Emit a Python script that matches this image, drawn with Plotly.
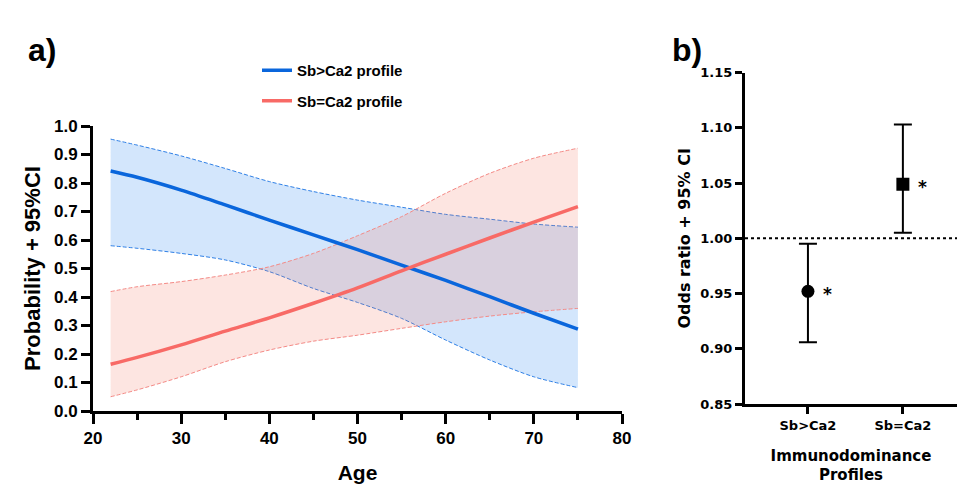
import plotly.graph_objects as go

# ---------------- Data ----------------
ages = [22, 25, 30, 35, 40, 45, 50, 55, 60, 65, 70, 75]

blue_mean  = [0.842, 0.820, 0.775, 0.723, 0.670, 0.618, 0.566, 0.512, 0.458, 0.401, 0.343, 0.287]
blue_upper = [0.954, 0.933, 0.895, 0.851, 0.805, 0.770, 0.740, 0.715, 0.690, 0.673, 0.656, 0.645]
blue_lower = [0.580, 0.571, 0.553, 0.530, 0.489, 0.430, 0.381, 0.325, 0.249, 0.179, 0.120, 0.082]

red_mean  = [0.164, 0.188, 0.232, 0.280, 0.327, 0.378, 0.432, 0.492, 0.550, 0.607, 0.663, 0.717]
red_upper = [0.419, 0.436, 0.454, 0.477, 0.506, 0.553, 0.615, 0.682, 0.764, 0.834, 0.887, 0.922]
red_lower = [0.050, 0.074, 0.120, 0.173, 0.214, 0.245, 0.266, 0.290, 0.313, 0.333, 0.348, 0.360]

profiles = ["Sb>Ca2", "Sb=Ca2"]
odds_ratio = [0.952, 1.049]
ci_low = [0.906, 1.005]
ci_high = [0.995, 1.103]
markers = ["circle", "square"]

x_ticks_a = [20, 30, 40, 50, 60, 70, 80]
y_ticks_a = [0.0, 0.1, 0.2, 0.3, 0.4, 0.5, 0.6, 0.7, 0.8, 0.9, 1.0]
y_ticks_b = [0.85, 0.90, 0.95, 1.00, 1.05, 1.10, 1.15]

BLUE = "#0a66dc"
RED = "#f86a66"
FA = "Liberation Sans, Arial, sans-serif"
FB = "DejaVu Sans, sans-serif"
W, H = 957, 485
DASH = "4px,2px"

fig = go.Figure()

# Blue CI band
fig.add_trace(go.Scatter(x=ages, y=blue_lower, mode="lines",
                         line=dict(color="#2f80e6", width=1, dash=DASH, shape="spline", smoothing=0.8),
                         showlegend=False, hoverinfo="skip"))
fig.add_trace(go.Scatter(x=ages, y=blue_upper, mode="lines",
                         line=dict(color="#2f80e6", width=1, dash=DASH, shape="spline", smoothing=0.8),
                         fill="tonexty", fillcolor="rgba(20,120,238,0.19)", showlegend=False, hoverinfo="skip"))
# Red CI band
fig.add_trace(go.Scatter(x=ages, y=red_lower, mode="lines",
                         line=dict(color="#f48a86", width=1, dash=DASH, shape="spline", smoothing=0.8),
                         showlegend=False, hoverinfo="skip"))
fig.add_trace(go.Scatter(x=ages, y=red_upper, mode="lines",
                         line=dict(color="#f48a86", width=1, dash=DASH, shape="spline", smoothing=0.8),
                         fill="tonexty", fillcolor="rgba(245,115,95,0.19)", showlegend=False, hoverinfo="skip"))

# Mean lines
fig.add_trace(go.Scatter(x=ages, y=blue_mean, mode="lines", name="<b>Sb>Ca2 profile</b>", legendgroup="b",
                         line=dict(color=BLUE, width=3.5, shape="spline", smoothing=0.8)))
fig.add_trace(go.Scatter(x=ages, y=red_mean, mode="lines", name="<b>Sb=Ca2 profile</b>", legendgroup="r",
                         line=dict(color=RED, width=3.5, shape="spline", smoothing=0.8)))

# Panel b
for i in range(2):
    fig.add_trace(go.Scatter(
        x=[i], y=[odds_ratio[i]], xaxis="x2", yaxis="y2", mode="markers",
        marker=dict(symbol=markers[i], size=13, color="black"),
        error_y=dict(type="data", symmetric=False,
                     array=[ci_high[i] - odds_ratio[i]], arrayminus=[odds_ratio[i] - ci_low[i]],
                     color="black", thickness=2, width=9),
        showlegend=False, hoverinfo="skip"))

fig.add_shape(type="line", xref="x2 domain", yref="y2", x0=0, x1=1, y0=1.0, y1=1.0,
              line=dict(color="black", width=2, dash="dot"), layer="below")

fig.add_annotation(x=26 / W, y=1 - 30 / H, xref="paper", yref="paper", text="<b>a)</b>", showarrow=False,
                   font=dict(family=FA, size=32, color="black"))
fig.add_annotation(x=704 / W, y=1 - 30 / H, xref="paper", yref="paper", text="<b>b)</b>", showarrow=False,
                   font=dict(family=FA, size=32, color="black"))
for i in range(2):
    fig.add_annotation(x=i, y=odds_ratio[i], xref="x2", yref="y2", text="<b>*</b>", showarrow=False,
                       xshift=20, yshift=-3, font=dict(family=FB, size=17, color="black"))

fig.update_layout(
    width=W, height=H,
    margin=dict(l=0, r=0, t=0, b=0, autoexpand=False),
    paper_bgcolor="white", plot_bgcolor="white",
    legend=dict(x=257 / W, y=1 - 54 / H, xanchor="left", yanchor="top",
                font=dict(family=FA, size=15, color="black"),
                traceorder="grouped", tracegroupgap=8, bgcolor="rgba(0,0,0,0)"),
    xaxis=dict(domain=[93 / W, 622 / W], range=[20, 80], tickvals=x_ticks_a,
               ticktext=[f"<b>{v}</b>" for v in x_ticks_a], automargin=False,
               showline=True, linecolor="black", linewidth=3, ticks="outside", ticklen=10, tickwidth=3,
               tickcolor="black", showgrid=False, zeroline=False,
               minor=dict(dtick=5, tick0=0, ticks="outside", ticklen=6, tickwidth=3, tickcolor="black", showgrid=False),
               tickfont=dict(family=FA, size=17, color="black"),
               title=dict(text="<b>Age</b>", font=dict(family=FA, size=21, color="black"), standoff=18),
               anchor="y"),
    yaxis=dict(domain=[1 - 411 / H, 1 - 126 / H], range=[0, 1], tickvals=y_ticks_a,
               ticktext=[f"<b>{v:.1f}</b>" for v in y_ticks_a], automargin=False,
               showline=True, linecolor="black", linewidth=3, ticks="outside", ticklen=9, tickwidth=3,
               tickcolor="black", showgrid=False, zeroline=False,
               tickfont=dict(family=FA, size=17, color="black"),
               title=dict(text="<b>Probability + 95%CI</b>", font=dict(family=FA, size=22, color="black"), standoff=8),
               anchor="x"),
    xaxis2=dict(domain=[745 / W, 1.0], range=[-0.663, 1.57], tickvals=[0, 1],
                ticktext=[f"<b>{p}</b>" for p in profiles], automargin=False,
                showline=True, linecolor="black", linewidth=3, ticks="outside", ticklen=7, tickwidth=3,
                tickcolor="black", showgrid=False, zeroline=False,
                tickfont=dict(family=FB, size=13, color="black"),
                title=dict(text="<b>Immunodominance<br>Profiles</b>", font=dict(family=FB, size=15, color="black"),
                           standoff=19),
                anchor="y2"),
    yaxis2=dict(domain=[1 - 404 / H, 1 - 72.7 / H], range=[0.85, 1.15], tickvals=y_ticks_b,
                ticktext=[f"<b>{v:.2f}</b>" for v in y_ticks_b], automargin=False,
                showline=True, linecolor="black", linewidth=3, ticks="outside", ticklen=7, tickwidth=3,
                tickcolor="black", showgrid=False, zeroline=False,
                tickfont=dict(family=FB, size=13, color="black"),
                title=dict(text="<b>Odds ratio + 95% CI</b>", font=dict(family=FB, size=16, color="black"), standoff=6),
                anchor="x2"),
)

fig.write_html("out.html", config={"displayModeBar": False},
               post_script="document.body.style.margin='0px';document.body.style.padding='0px';")
